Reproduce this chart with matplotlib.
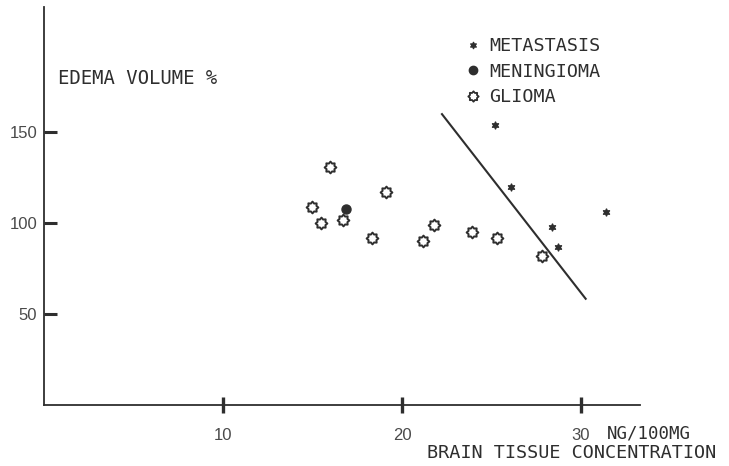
import matplotlib
matplotlib.use("Agg")
import matplotlib.pyplot as plt
from matplotlib.lines import Line2D
from matplotlib.path import Path
import numpy as np

# Brain tissue concentration (ng/100mg) vs edema volume (%)
glioma_x = [16.0, 15.0, 15.5, 16.7, 19.1, 18.3, 21.8, 21.2, 23.9, 25.3, 27.8]
glioma_y = [131, 109, 100, 102, 117, 92, 99, 90, 95, 92, 82]
meningioma_x = [16.9]
meningioma_y = [108]
metastasis_x = [25.2, 26.1, 28.4, 28.7, 31.4]
metastasis_y = [154, 120, 98, 87, 106]
# Regression line through the metastasis group
trend_x = [22.2, 30.3]
trend_y = [160.5, 58]

x_ticks = [10, 20, 30]
y_ticks = [50, 100, 150]

INK = "#2e2e2e"
MONO = "DejaVu Sans Mono"

# Cog-shaped marker for the glioma group
n_teeth = 8
ang = np.linspace(0, 2 * np.pi, 2 * n_teeth, endpoint=False) + np.pi / 2
rad = np.where(np.arange(2 * n_teeth) % 2 == 0, 1.0, 0.72)
cog_verts = np.column_stack([rad * np.cos(ang), rad * np.sin(ang)])
cog_verts = np.vstack([cog_verts, cog_verts[:1]])
cog = Path(cog_verts, closed=True)

fig = plt.figure(figsize=(7.29, 4.66), dpi=100)
ax = fig.add_axes([44 / 729, 1 - 405 / 466, (640 - 44) / 729, (405 - 7) / 466])

ax.plot(trend_x, trend_y, color=INK, lw=1.5, solid_capstyle="butt", zorder=2)
ax.plot(glioma_x, glioma_y, ls="none", marker=cog, ms=8.5, mfc="white",
        mec=INK, mew=1.4, zorder=3)
ax.plot(meningioma_x, meningioma_y, ls="none", marker="o", ms=6.5,
        mfc=INK, mec=INK, zorder=3)
ax.plot(metastasis_x, metastasis_y, ls="none", marker=(6, 1, 0), ms=5.5,
        mfc=INK, mec=INK, mew=0.8, zorder=3)

ax.set_xlim(0, 33.3)
ax.set_ylim(0, 219)

for side in ("top", "right"):
    ax.spines[side].set_visible(False)
for side in ("left", "bottom"):
    ax.spines[side].set_color(INK)
    ax.spines[side].set_linewidth(1.3)

ax.set_xticks(x_ticks)
ax.set_yticks(y_ticks)
ax.tick_params(axis="x", direction="inout", length=11.5, width=2.4,
               color=INK, pad=11, labelsize=12, labelcolor="#4a4a4a")
ax.tick_params(axis="y", direction="in", length=9.5, width=2.2,
               color=INK, pad=5, labelsize=12, labelcolor="#4a4a4a")
for lab in ax.get_xticklabels() + ax.get_yticklabels():
    lab.set_family("Liberation Sans")

fig.text(58 / 729, 1 - 78 / 466, "EDEMA VOLUME %", family=MONO, size=13.6,
         color=INK, ha="left", va="center")
fig.text(607 / 729, 1 - 433 / 466, "NG/100MG", family=MONO, size=12.5,
         color=INK, ha="left", va="center")
fig.text(427 / 729, 1 - 453 / 466, "BRAIN TISSUE CONCENTRATION", family=MONO,
         size=13.3, color=INK, ha="left", va="center")

handles = [
    Line2D([], [], ls="none", marker=(6, 1, 0), ms=5, mfc=INK, mec=INK, mew=0.8),
    Line2D([], [], ls="none", marker="o", ms=6, mfc=INK, mec=INK),
    Line2D([], [], ls="none", marker=cog, ms=7.5, mfc="white", mec=INK, mew=1.3),
]
labels = ["METASTASIS", "MENINGIOMA", "GLIOMA"]
leg = fig.legend(handles, labels, loc="upper left",
                 bbox_to_anchor=(464 / 729, 1 - 37 / 466),
                 frameon=False, borderpad=0, borderaxespad=0,
                 handlelength=1.0, handletextpad=0.35, labelspacing=0.42,
                 prop={"family": MONO, "size": 13.2})
for t in leg.get_texts():
    t.set_color(INK)

fig.savefig("out.png", dpi=100, facecolor="white")
